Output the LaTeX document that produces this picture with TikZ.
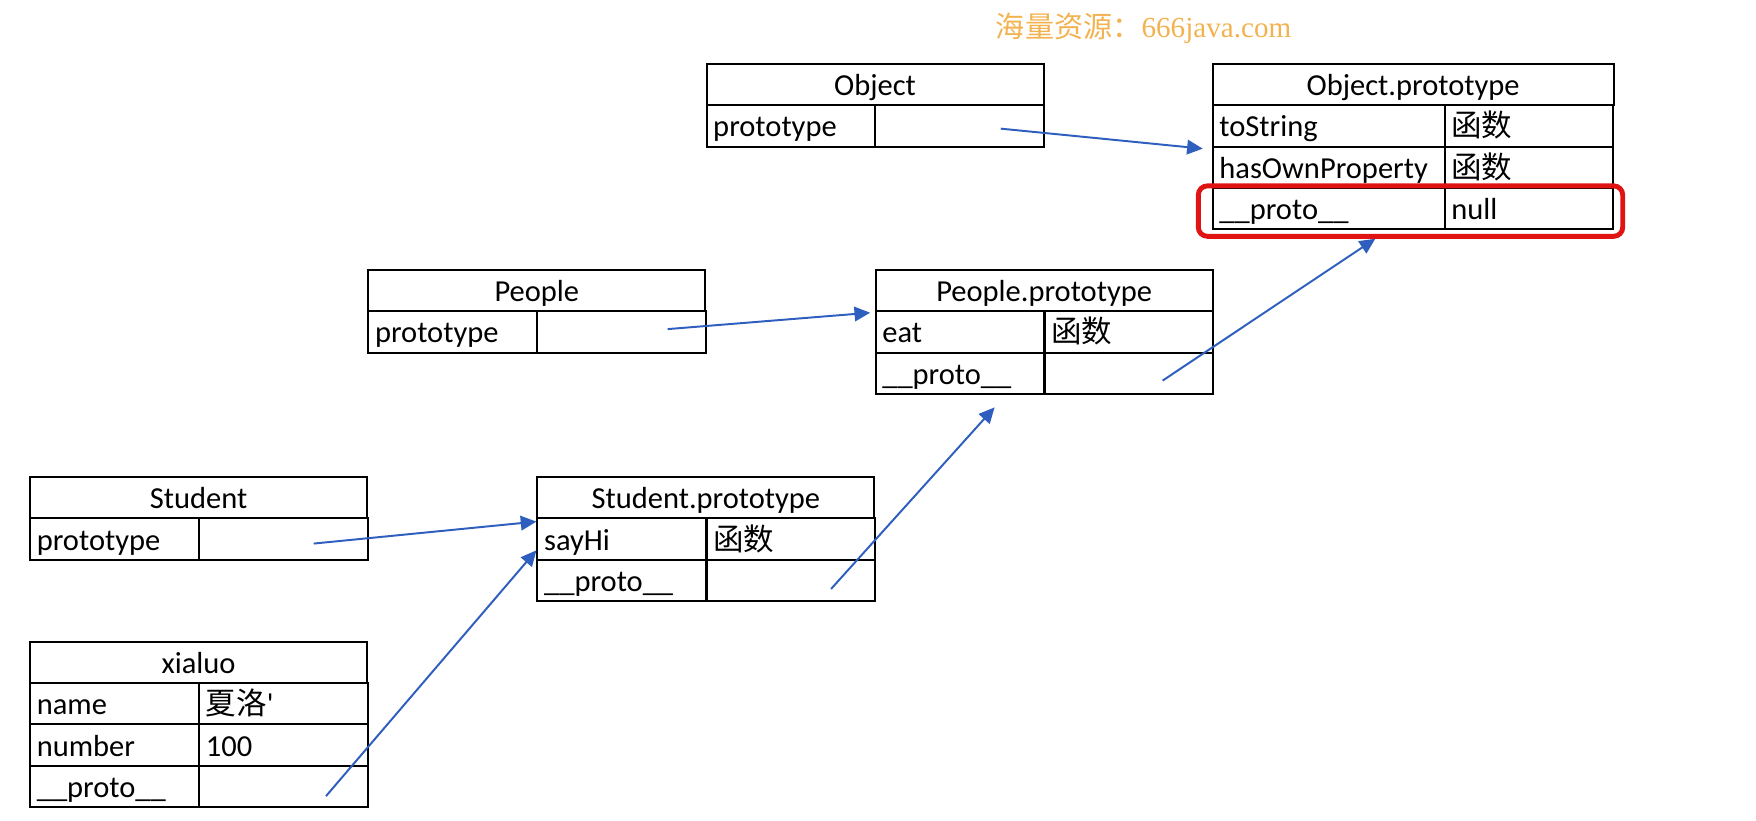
\documentclass[tikz,border=0pt]{standalone}
\usepackage{fontspec}
\setmainfont{Carlito}
\newfontfamily\plainfont{Carlito}[Ligatures=TeXOff]
\newfontfamily\cjk{Noto Sans CJK SC}
\newfontfamily\wmserif{Liberation Serif}
\usetikzlibrary{arrows.meta}

\definecolor{linkblue}{RGB}{47,95,190}
\definecolor{hlred}{RGB}{225,20,20}
\definecolor{wmorange}{RGB}{242,178,80}

\tikzstyle{cell} = [draw, line width=1pt, anchor=north west, minimum height=0.74cm, inner xsep=0.12cm, inner ysep=0pt, text height=0.5cm, text depth=0.11cm, align=left, text width=2.77cm, font=\fontsize{15.5pt}{18pt}\selectfont]
\tikzstyle{head} = [cell, align=center, text width=5.78cm]
\tikzstyle{link} = [draw=linkblue, line width=1pt, -{Triangle[length=0.28cm,width=0.26cm]}]

\begin{document}
\begin{tikzpicture}[x=0.02cm, y=-0.02cm]
      \useasboundingbox (0,0) rectangle (1568,733);
      % watermark
      \node[anchor=west, inner sep=0pt, text=wmorange, font=\fontsize{14.8pt}{17pt}\selectfont] (wm) at (889,25) {{\cjk 海量资源：}{\wmserif 666java.com}};
      % Object
      \node[head] (objhead) at (630,56) {Object};
      \node[cell] (objkey) at (630,93) {prototype};
      \node[cell] (objval) at (780.5,93) {};
      % Object.prototype
      \node[head, text width=6.92cm] (ophead) at (1082,56) {Object.prototype};
      \node[cell, text width=3.9cm] (otskey) at (1082,93) {toString};
      \node[cell] (otsval) at (1289,93) {\cjk 函数};
      \node[cell, text width=3.9cm] (ohokey) at (1082,130) {hasOwnProperty};
      \node[cell] (ohoval) at (1289,130) {\cjk 函数};
      \node[cell, text width=3.9cm] (oprkey) at (1082,167) {\_\_proto\_\_};
      \node[cell] (oprval) at (1289,167) {null};
      \node[draw=hlred, line width=2.5pt, rounded corners=0.16cm, minimum width=7.58cm, minimum height=0.9cm, inner sep=0pt] (hl) at (1259.5,188.5) {};
      % People
      \node[head] (phead) at (328,240) {People};
      \node[cell] (pkey) at (328,277) {prototype};
      \node[cell] (pval) at (479,277) {};
      % People.prototype
      \node[head] (pphead) at (781,240) {People.prototype};
      \node[cell] (peatkey) at (781,277) {eat};
      \node[cell] (peatval) at (932,277) {\cjk 函数};
      \node[cell] (pprkey) at (781,314) {\_\_proto\_\_};
      \node[cell] (pprval) at (932,314) {};
      % Student
      \node[head] (shead) at (26,425) {Student};
      \node[cell] (skey) at (26,462) {prototype};
      \node[cell] (sval) at (177,462) {};
      % Student.prototype
      \node[head] (sphead) at (479,425) {Student.prototype};
      \node[cell] (shikey) at (479,462) {sayHi};
      \node[cell] (shival) at (630,462) {\cjk 函数};
      \node[cell] (sprkey) at (479,499) {\_\_proto\_\_};
      \node[cell] (sprval) at (630,499) {};
      % xialuo
      \node[head] (xhead) at (26,572) {xialuo};
      \node[cell] (xnamekey) at (26,609) {name};
      \node[cell] (xnameval) at (177,609) {{\cjk 夏洛}{\plainfont '}};
      \node[cell] (xnumkey) at (26,646) {number};
      \node[cell] (xnumval) at (177,646) {100};
      \node[cell] (xprkey) at (26,683) {\_\_proto\_\_};
      \node[cell] (xprval) at (177,683) {};
      % links
      \draw[link] ([xshift=0.74cm, yshift=-0.05cm]objval.center) -- ([xshift=-0.16cm, yshift=-0.02cm]otskey.south west);
      \draw[link] ([xshift=0.82cm, yshift=0.05cm]pval.center) -- ([xshift=-0.08cm, yshift=-0.01cm]pphead.south west);
      \draw[link] ([xshift=0.54cm, yshift=-0.08cm]sval.center) -- ([yshift=-0.04cm]sphead.south west);
      \draw[link] ([xshift=0.76cm, yshift=-0.17cm]xprval.center) -- ([yshift=-0.2cm]shikey.west);
      \draw[link] ([xshift=0.72cm, yshift=-0.15cm]sprval.center) -- ([xshift=0.62cm, yshift=-0.22cm]pprkey.south);
      \draw[link] ([xshift=0.6cm, yshift=-0.13cm]pprval.center) -- ([xshift=-0.63cm]hl.south);
    \end{tikzpicture}
\end{document}
